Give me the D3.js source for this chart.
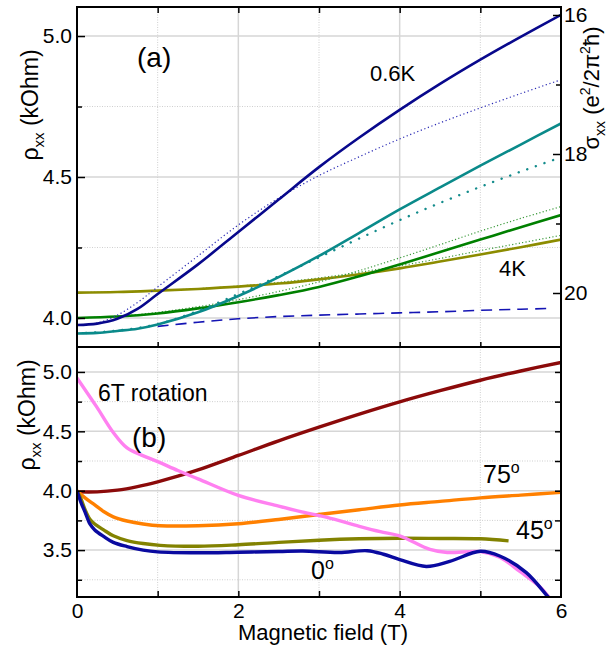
<!DOCTYPE html>
<html>
<head>
<meta charset="utf-8">
<script src="https://cdn.jsdelivr.net/npm/d3@7"></script>
<style>
body { margin: 0; background: #fff; }
svg text { font-family: "Liberation Sans", Arial, sans-serif; fill: #000; }
</style>
</head>
<body>
<div id="chart"></div>
<script>
// panel (a): rho_xx vs B, solid = data, dotted = fits
const navy06K = [[0,3.975],[0.25,3.98],[0.5,3.997],[0.75,4.032],[1,4.085],[1.5,4.19],[2,4.305],[2.5,4.42],[3,4.535],[3.5,4.64],[4,4.738],[4.5,4.83],[5,4.916],[5.5,4.997],[6,5.075]];
const navyFit = [[0,3.975],[0.25,3.982],[0.5,4.01],[0.75,4.055],[1,4.11],[1.5,4.22],[2,4.33],[2.5,4.425],[3,4.505],[3.5,4.572],[4,4.635],[4.5,4.692],[5,4.745],[5.5,4.796],[6,4.845]];
const navyDash = [[1,3.97],[1.5,3.985],[2,3.997],[2.5,4.005],[3,4.01],[3.5,4.014],[4,4.018],[4.5,4.022],[5,4.027],[5.5,4.031],[5.9,4.034]];
const tealData = [[0,3.945],[0.25,3.947],[0.5,3.954],[0.75,3.962],[1,3.977],[1.5,4.02],[2,4.078],[2.5,4.145],[3,4.22],[3.5,4.302],[4,4.385],[4.5,4.463],[5,4.54],[5.5,4.615],[6,4.69]];
const tealFit = [[0,3.945],[0.5,3.955],[1,3.978],[1.5,4.025],[2,4.085],[2.5,4.148],[3,4.215],[3.5,4.282],[4,4.347],[4.5,4.408],[5,4.465],[5.5,4.519],[6,4.57]];
const greenData = [[0,4.0],[0.5,4.005],[1,4.016],[1.5,4.034],[2,4.056],[2.5,4.081],[3,4.11],[3.5,4.148],[4,4.19],[4.5,4.234],[5,4.278],[5.5,4.322],[6,4.365]];
const greenFit = [[0,4.0],[0.5,4.006],[1,4.02],[1.5,4.04],[2,4.065],[2.5,4.094],[3,4.128],[3.5,4.168],[4,4.213],[4.5,4.26],[5,4.308],[5.5,4.353],[6,4.395]];
const olive4K = [[0,4.09],[0.5,4.092],[1,4.097],[1.5,4.103],[2,4.111],[2.5,4.122],[3,4.137],[3.5,4.155],[4,4.176],[4.5,4.2],[5,4.225],[5.5,4.251],[6,4.278]];
const oliveFit = [[0,4.09],[0.5,4.092],[1,4.097],[1.5,4.104],[2,4.113],[2.5,4.126],[3,4.142],[3.5,4.162],[4,4.185],[4.5,4.211],[5,4.239],[5.5,4.266],[6,4.293]];

// panel (b): 6T rotation
const rot0 = [[0,4.0],[0.05,3.9],[0.1,3.82],[0.16,3.72],[0.22,3.67],[0.33,3.615],[0.45,3.565],[0.62,3.53],[0.82,3.5],[1,3.485],[1.5,3.477],[2,3.482],[2.5,3.488],[2.8,3.492],[3.25,3.48],[3.6,3.495],[3.8,3.465],[4,3.42],[4.33,3.362],[4.62,3.405],[5,3.49],[5.24,3.45],[5.57,3.31],[5.84,3.105],[5.9,3.06]];
const rot45 = [[0,4.0],[0.05,3.93],[0.1,3.84],[0.16,3.76],[0.22,3.72],[0.33,3.67],[0.45,3.62],[0.62,3.58],[0.82,3.555],[1.03,3.54],[1.5,3.532],[2,3.545],[2.5,3.565],[3,3.583],[3.5,3.595],[4,3.6],[4.5,3.598],[5,3.595],[5.35,3.578]];
const rot75 = [[0,4.0],[0.1,3.94],[0.22,3.88],[0.33,3.825],[0.45,3.78],[0.62,3.745],[0.82,3.72],[1.03,3.705],[1.5,3.705],[2,3.722],[2.5,3.758],[3,3.8],[3.5,3.84],[4,3.88],[4.5,3.91],[5,3.94],[5.5,3.963],[6,3.986]];
const rot90 = [[0,3.99],[0.25,3.99],[0.5,4.005],[0.75,4.035],[1,4.075],[1.25,4.122],[1.5,4.175],[2,4.297],[2.5,4.42],[3,4.535],[3.5,4.645],[4,4.748],[4.5,4.842],[5,4.93],[5.5,5.008],[6,5.08]];
const pinkRot = [[0,4.95],[0.24,4.71],[0.45,4.49],[0.62,4.36],[0.8,4.3],[1,4.245],[1.25,4.17],[1.5,4.1],[2,3.96],[2.5,3.87],[2.76,3.826],[3.1,3.775],[3.5,3.7],[3.76,3.655],[4,3.62],[4.375,3.505],[4.59,3.48],[5,3.487],[5.24,3.44],[5.49,3.32],[5.74,3.19],[5.9,3.06]];

// ticks
const fieldTicks = [0, 2, 4, 6];
const fieldMinor = [1, 3, 5];
const rhoTopTicks = [4.0, 4.5, 5.0];
const rhoTopMinor = [4.25, 4.75];
const rhoBotTicks = [3.5, 4.0, 4.5, 5.0];
const rhoBotMinor = [3.25, 3.75, 4.25, 4.75];
const sigmaTicks = [16, 18, 20];
const sigmaMinor = [17, 19];

const margin = { top: 7, right: 49, bottom: 51, left: 77 };
const W = 610, H = 648;
const width = W - margin.left - margin.right;
const hTop = 340, hBot = 250;

const svg = d3.select("#chart").append("svg")
    .attr("width", W).attr("height", H);

const x = d3.scaleLinear().domain([0, 6]).range([0, width]);
const yTop = d3.scaleLinear().domain([3.897, 5.103]).range([hTop, 0]);
const ySig = d3.scaleLinear().domain([16, 20]).range([8, 286]);
const yBot = d3.scaleLinear().domain([3.105, 5.21]).range([hBot, 0]);

const gTop = svg.append("g").attr("transform", "translate(" + margin.left + "," + margin.top + ")");
const gBot = svg.append("g").attr("transform", "translate(" + margin.left + "," + (margin.top + hTop) + ")");

const defs = svg.append("defs");
defs.append("clipPath").attr("id", "clipTop")
    .append("rect").attr("width", width).attr("height", hTop);
defs.append("clipPath").attr("id", "clipBot")
    .append("rect").attr("width", width).attr("height", hBot);

// grid lines
function grid(g, y, h, major, minor) {
    g.append("g").selectAll("line").data(major).enter().append("line")
        .attr("x1", 0).attr("x2", width)
        .attr("y1", d => y(d)).attr("y2", d => y(d))
        .attr("stroke", "#d6d6d6").attr("stroke-width", 1.5);
    g.append("g").selectAll("line").data(minor).enter().append("line")
        .attr("x1", 0).attr("x2", width)
        .attr("y1", d => y(d)).attr("y2", d => y(d))
        .attr("stroke", "#cfcfcf").attr("stroke-width", 1).attr("stroke-dasharray", "1,1.5");
    g.append("g").selectAll("line").data([2, 4]).enter().append("line")
        .attr("x1", d => x(d)).attr("x2", d => x(d))
        .attr("y1", 0).attr("y2", h)
        .attr("stroke", "#d6d6d6").attr("stroke-width", 1.5);
    g.append("g").selectAll("line").data(fieldMinor).enter().append("line")
        .attr("x1", d => x(d)).attr("x2", d => x(d))
        .attr("y1", 0).attr("y2", h)
        .attr("stroke", "#cfcfcf").attr("stroke-width", 1).attr("stroke-dasharray", "1,1.5");
}
grid(gTop, yTop, hTop, rhoTopTicks, rhoTopMinor);
grid(gBot, yBot, hBot, rhoBotTicks, rhoBotMinor);

// curves
const smooth = d3.curveCatmullRom.alpha(0.5);
const lineTop = d3.line().x(d => x(d[0])).y(d => yTop(d[1])).curve(smooth);
const lineBot = d3.line().x(d => x(d[0])).y(d => yBot(d[1])).curve(smooth);

const topSeries = [
    { data: navyDash, color: "#1414b4", w: 1.6, dash: "11,7", cap: "butt" },
    { data: oliveFit, color: "#3c9a3c", w: 1.2, dash: "1.2,2.2", cap: "butt" },
    { data: olive4K, color: "#8c8c00", w: 2.6 },
    { data: greenFit, color: "#3c9a3c", w: 1.2, dash: "1.2,2.2", cap: "butt" },
    { data: greenData, color: "#008000", w: 2.6 },
    { data: tealFit, color: "#148c8c", w: 2.4, dash: "0.1,9", cap: "round" },
    { data: tealData, color: "#0a8a8a", w: 2.6 },
    { data: navyFit, color: "#2a2ab4", w: 1.2, dash: "1.2,2.6", cap: "butt" },
    { data: navy06K, color: "#08088c", w: 2.6 }
];
gTop.append("g").attr("clip-path", "url(#clipTop)")
    .selectAll("path").data(topSeries).enter().append("path")
    .attr("d", d => lineTop(d.data))
    .attr("fill", "none")
    .attr("stroke", d => d.color)
    .attr("stroke-width", d => d.w)
    .attr("stroke-dasharray", d => d.dash || null)
    .attr("stroke-linecap", d => d.cap || "butt");

const botSeries = [
    { data: rot90, color: "#8b0a0a" },
    { data: rot75, color: "#ff8000" },
    { data: rot45, color: "#828200" },
    { data: pinkRot, color: "#ff80f0" },
    { data: rot0, color: "#0a0aa0" }
];
gBot.append("g").attr("clip-path", "url(#clipBot)")
    .selectAll("path").data(botSeries).enter().append("path")
    .attr("d", d => lineBot(d.data))
    .attr("fill", "none")
    .attr("stroke", d => d.color)
    .attr("stroke-width", 3.4)
    .attr("stroke-linejoin", "round");

// axes, ticks pointing inward
function styleAxis(sel) {
    sel.selectAll(".domain").remove();
    sel.selectAll("line").attr("stroke", "#000").attr("stroke-width", 1.5);
    sel.selectAll("text").style("font-size", "21px").attr("fill", "#000");
}

// top panel
gTop.append("g").call(d3.axisLeft(yTop).tickValues(rhoTopTicks).tickSize(-8).tickPadding(5).tickFormat(d3.format(".1f"))).call(styleAxis);
gTop.append("g").call(d3.axisLeft(yTop).tickValues(rhoTopMinor).tickSize(-5).tickFormat("")).call(styleAxis);
gTop.append("g").attr("transform", "translate(" + width + ",0)")
    .call(d3.axisRight(ySig).tickValues(sigmaTicks).tickSize(-8).tickPadding(3).tickFormat(d3.format("d"))).call(styleAxis);
gTop.append("g").attr("transform", "translate(" + width + ",0)")
    .call(d3.axisRight(ySig).tickValues(sigmaMinor).tickSize(-5).tickFormat("")).call(styleAxis);
gTop.append("g").call(d3.axisTop(x).tickValues(fieldMinor.concat([2, 4])).tickSize(-6).tickFormat("")).call(styleAxis);
gTop.append("g").attr("transform", "translate(0," + hTop + ")")
    .call(d3.axisBottom(x).tickValues(fieldMinor.concat([2, 4])).tickSize(-5).tickFormat("")).call(styleAxis);

// bottom panel
gBot.append("g").call(d3.axisLeft(yBot).tickValues(rhoBotTicks).tickSize(-8).tickPadding(5).tickFormat(d3.format(".1f"))).call(styleAxis);
gBot.append("g").call(d3.axisLeft(yBot).tickValues(rhoBotMinor).tickSize(-5).tickFormat("")).call(styleAxis);
gBot.append("g").attr("transform", "translate(" + width + ",0)")
    .call(d3.axisRight(yBot).tickValues(rhoBotTicks.concat(rhoBotMinor)).tickSize(-6).tickFormat("")).call(styleAxis);
gBot.append("g").attr("transform", "translate(0," + hBot + ")")
    .call(d3.axisBottom(x).tickValues(fieldTicks).tickSize(0).tickPadding(6).tickFormat(d3.format("d"))).call(styleAxis);
gBot.append("g").attr("transform", "translate(0," + hBot + ")")
    .call(d3.axisBottom(x).tickValues(fieldMinor.concat([2, 4])).tickSize(-6).tickFormat("")).call(styleAxis);

// frames
[[gTop, hTop], [gBot, hBot]].forEach(([g, h]) => {
    g.append("rect").attr("width", width).attr("height", h)
        .attr("fill", "none").attr("stroke", "#000").attr("stroke-width", 2);
});

// axis titles
function rhoLabel(cx, cy) {
    const t = svg.append("text")
        .attr("transform", "translate(" + cx + "," + cy + ") rotate(-90)")
        .attr("text-anchor", "middle").style("font-size", "23px");
    t.append("tspan").text("ρ");
    t.append("tspan").attr("dy", 6).style("font-size", "15px").text("xx");
    t.append("tspan").attr("dy", -6).text(" (kOhm)");
}
rhoLabel(38, 105);
rhoLabel(35, 415);

const sig = svg.append("text")
    .attr("transform", "translate(599,88) rotate(-90)")
    .attr("text-anchor", "middle").style("font-size", "22px");
sig.append("tspan").text("σ");
sig.append("tspan").attr("dy", 6).style("font-size", "15px").text("xx");
sig.append("tspan").attr("dy", -6).text(" (e");
sig.append("tspan").attr("dy", -9).style("font-size", "14px").text("2");
sig.append("tspan").attr("dy", 9).text("/2π");
sig.append("tspan").attr("dy", -9).style("font-size", "14px").text("2");
sig.append("tspan").attr("dy", 9).text("ħ)");

svg.append("text").attr("x", margin.left + width / 2 + 4).attr("y", 640)
    .attr("text-anchor", "middle").style("font-size", "22px").text("Magnetic field (T)");

// annotations
function note(g, px, py, str, size) {
    return g.append("text").attr("x", px).attr("y", py).style("font-size", size + "px").text(str);
}
note(svg, 137, 67, "(a)", 28);
note(svg, 370, 81, "0.6K", 22);
note(svg, 499, 276, "4K", 22);
note(svg, 98, 401, "6T rotation", 23);
note(svg, 132, 447, "(b)", 28);

function degree(px, py, str) {
    const t = note(svg, px, py, str, 25);
    t.append("tspan").attr("dy", -10).style("font-size", "16px").text("o");
}
degree(483, 483, "75");
degree(516, 539, "45");
degree(311, 579, "0");
</script>
</body>
</html>
